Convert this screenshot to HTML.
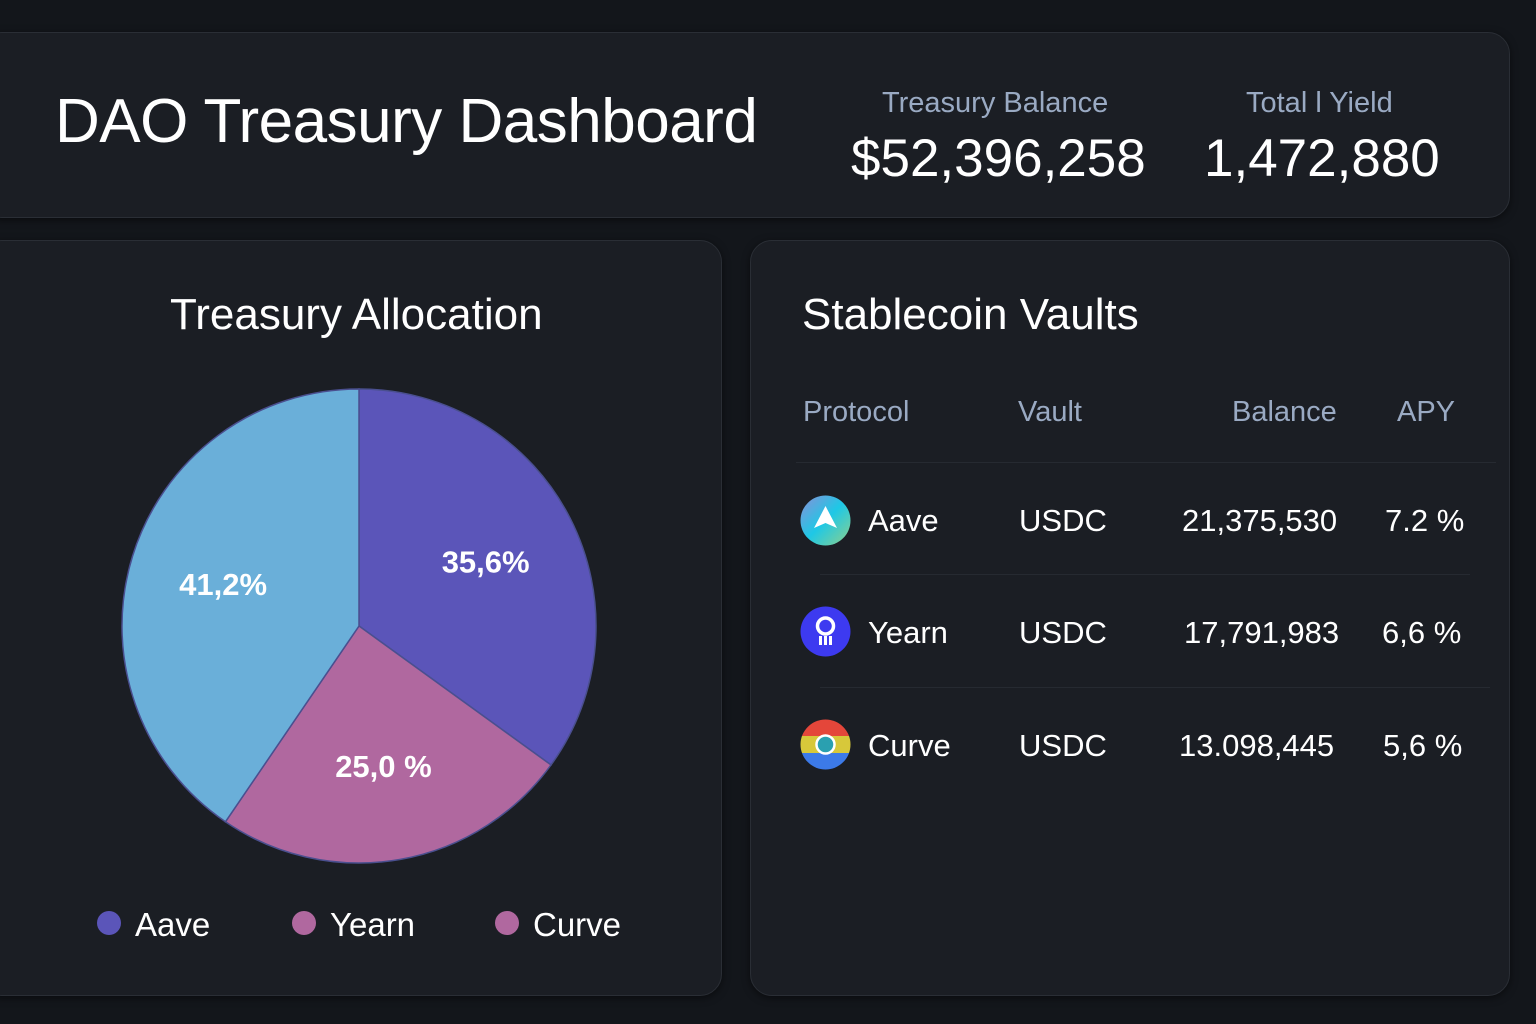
<!DOCTYPE html>
<html><head><meta charset="utf-8">
<style>
*{box-sizing:border-box;margin:0;padding:0}
body{width:1536px;height:1024px;background:#13161b;font-family:"Liberation Sans",sans-serif;color:#fff;position:relative;overflow:hidden}
.card{position:absolute;background:#1b1e24;border:1px solid #2a2e35;border-radius:22px;box-shadow:0 2px 8px rgba(0,0,0,.5)}
.t{position:absolute;white-space:nowrap}
.muted{color:#9aaac3}
.hr{position:absolute;height:1px;background:#262a31}
</style></head><body>
<div class="card" style="left:-20px;top:32px;width:1530px;height:186px"></div>
<div class="t" style="left:55px;top:86px;font-size:62px;letter-spacing:-0.5px">DAO Treasury Dashboard</div>
<div class="t muted" style="left:882px;top:87px;font-size:29px">Treasury Balance</div>
<div class="t" style="left:851px;top:128px;font-size:53px">$52,396,258</div>
<div class="t muted" style="left:1246px;top:87px;font-size:29px">Total l Yield</div>
<div class="t" style="left:1204px;top:128px;font-size:53px">1,472,880</div>

<div class="card" style="left:-20px;top:240px;width:742px;height:756px"></div>
<div class="t" style="left:170px;top:290px;font-size:44px">Treasury Allocation</div>
<svg id="pie" style="position:absolute;left:0;top:0" width="740" height="1024"></svg>
<div>
<div class="t" style="left:97px;top:906px;font-size:33px"><span style="display:inline-block;width:24px;height:24px;border-radius:50%;background:#5b55b9;vertical-align:middle;margin-right:14px;position:relative;top:-4px"></span>Aave</div>
<div class="t" style="left:292px;top:906px;font-size:33px"><span style="display:inline-block;width:24px;height:24px;border-radius:50%;background:#b0689f;vertical-align:middle;margin-right:14px;position:relative;top:-4px"></span>Yearn</div>
<div class="t" style="left:495px;top:906px;font-size:33px"><span style="display:inline-block;width:24px;height:24px;border-radius:50%;background:#b0689f;vertical-align:middle;margin-right:14px;position:relative;top:-4px"></span>Curve</div>
</div>

<div class="card" style="left:750px;top:240px;width:760px;height:756px"></div>
<div class="t" style="left:802px;top:290px;font-size:44px">Stablecoin Vaults</div>
<div class="t muted" style="left:803px;top:396px;font-size:29px">Protocol</div>
<div class="t muted" style="left:1018px;top:396px;font-size:29px">Vault</div>
<div class="t muted" style="left:1232px;top:396px;font-size:29px">Balance</div>
<div class="t muted" style="left:1397px;top:396px;font-size:29px">APY</div>
<div class="hr" style="left:796px;top:462px;width:700px"></div>
<div class="hr" style="left:820px;top:574px;width:650px"></div>
<div class="hr" style="left:820px;top:687px;width:670px"></div>

<div>
<svg class="t" style="left:800px;top:495px" width="51" height="51"><defs><linearGradient id="ga" x1="0" y1="0" x2="1" y2="1"><stop offset="0" stop-color="#8a8fd8"/><stop offset=".5" stop-color="#1ec8e6"/><stop offset="1" stop-color="#8fd08a"/></linearGradient></defs><circle cx="25.5" cy="25.5" r="25" fill="url(#ga)"/><path d="M25.5 11 L37 33 L25.5 28 L14 33 Z" fill="#fff"/></svg>
<div class="t" style="left:868px;top:503px;font-size:31px">Aave</div>
<div class="t" style="left:1019px;top:503px;font-size:31px">USDC</div>
<div class="t" style="left:1182px;top:503px;font-size:31px">21,375,530</div>
<div class="t" style="left:1385px;top:503px;font-size:31px">7.2 %</div>
</div>
<div>
<svg class="t" style="left:800px;top:606px" width="51" height="51"><circle cx="25.5" cy="25.5" r="25" fill="#3d3af0"/><circle cx="25.5" cy="20" r="8" fill="none" stroke="#fff" stroke-width="3.5"/><rect x="19" y="30" width="3" height="9" fill="#fff"/><rect x="24" y="30" width="3" height="9" fill="#fff"/><rect x="29" y="30" width="3" height="9" fill="#fff"/></svg>
<div class="t" style="left:868px;top:615px;font-size:31px">Yearn</div>
<div class="t" style="left:1019px;top:615px;font-size:31px">USDC</div>
<div class="t" style="left:1184px;top:615px;font-size:31px">17,791,983</div>
<div class="t" style="left:1382px;top:615px;font-size:31px">6,6 %</div>
</div>
<div>
<svg class="t" style="left:800px;top:719px" width="51" height="51"><defs><clipPath id="cc"><circle cx="25.5" cy="25.5" r="25"/></clipPath></defs><g clip-path="url(#cc)"><rect width="51" height="17" fill="#e4463a"/><rect y="17" width="51" height="17" fill="#d7c83a"/><rect y="34" width="51" height="17" fill="#3c7ae8"/></g><circle cx="25.5" cy="25.5" r="9" fill="#2aa0b0" stroke="#fff" stroke-width="2.5"/></svg>
<div class="t" style="left:868px;top:728px;font-size:31px">Curve</div>
<div class="t" style="left:1019px;top:728px;font-size:31px">USDC</div>
<div class="t" style="left:1179px;top:728px;font-size:31px">13.098,445</div>
<div class="t" style="left:1383px;top:728px;font-size:31px">5,6 %</div>
</div>

<script>
const categories = ["Aave", "Yearn", "Curve"];
const values = [35.6, 25.0, 41.2];
const labels = ["35,6%", "25,0 %", "41,2%"];
const colors = ["#5b55b9", "#b0689f", "#6aafd9"];
const svg = document.getElementById('pie');
const NS = 'http://www.w3.org/2000/svg';
const cx = 359, cy = 626, r = 237;
const total = values.reduce((a, b) => a + b, 0);
function angleOf(v) { return v / total * Math.PI * 2; }
function pt(a, rr) { return [cx + rr * Math.sin(a), cy - rr * Math.cos(a)]; }
let start = 0;
values.forEach((v, i) => {
  const end = start + angleOf(v);
  const p1 = pt(start, r), p2 = pt(end, r);
  const large = end - start > Math.PI ? 1 : 0;
  const path = document.createElementNS(NS, 'path');
  path.setAttribute('d', `M${cx},${cy} L${p1[0]},${p1[1]} A${r},${r} 0 ${large} 1 ${p2[0]},${p2[1]} Z`);
  path.setAttribute('fill', colors[i]);
  path.setAttribute('stroke', '#4a4f8f');
  path.setAttribute('stroke-width', '1.5');
  
  
  svg.appendChild(path);
  const mid = (start + end) / 2;
  const lp = pt(mid, r * 0.6);
  const t = document.createElementNS(NS, 'text');
  t.setAttribute('x', lp[0]);
  t.setAttribute('y', lp[1] + 11);
  t.setAttribute('text-anchor', 'middle');
  t.setAttribute('fill', '#fff');
  t.setAttribute('font-size', '31');
  t.setAttribute('font-weight', 'bold');
  t.setAttribute('font-family', 'Liberation Sans, sans-serif');
  t.textContent = labels[i];
  
  
  svg.appendChild(t);
  start = end;
});
</script>
</body></html>
